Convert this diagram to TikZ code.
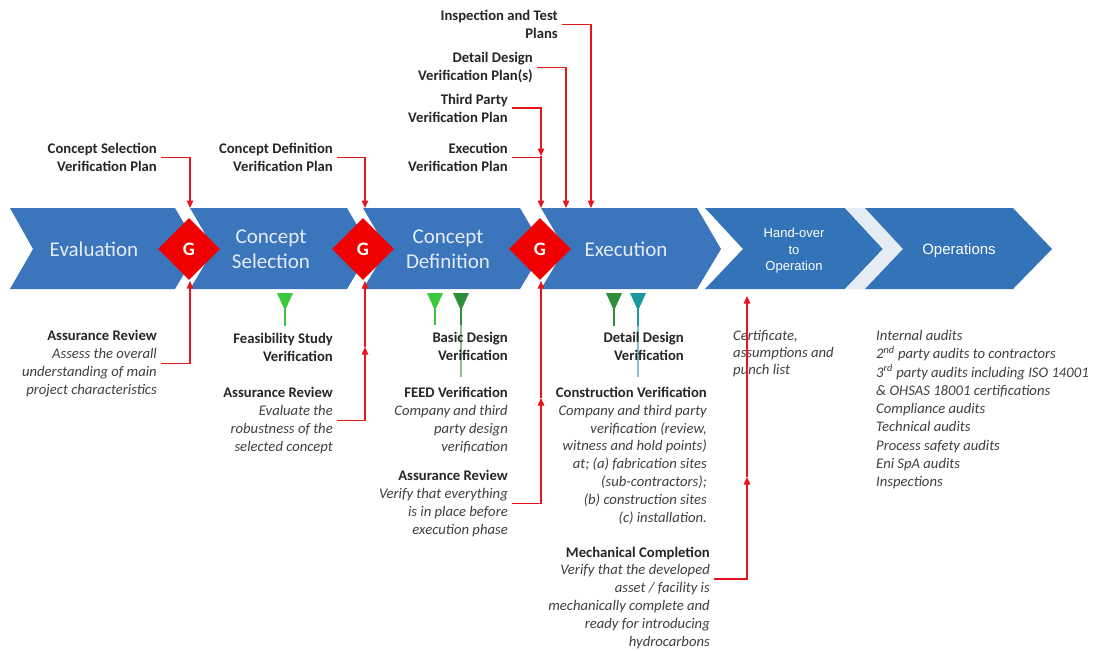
\documentclass[tikz,border=0pt]{standalone}
\usepackage{fontspec}
\setmainfont{Carlito}
\newfontfamily\arialfont{Liberation Sans}
\usetikzlibrary{arrows.meta,shapes.geometric,calc}

\definecolor{chev}{HTML}{3B76BC}
\definecolor{chevb}{HTML}{3373B8}
\definecolor{chevtext}{HTML}{E4ECF7}
\definecolor{gatered}{HTML}{F00000}
\definecolor{linkred}{HTML}{E8141C}
\definecolor{headc}{HTML}{262626}
\definecolor{bodyc}{HTML}{404040}
\definecolor{mkA}{HTML}{3CC83C}
\definecolor{mkB}{HTML}{2E8E3A}
\definecolor{mkC}{HTML}{1A9A9E}
\definecolor{gapc}{HTML}{E6ECF4}

\newcommand\blockhead[1]{{\upshape\bfseries\color{headc}#1}}
% funnel-shaped milestone marker: x position, colour, stem end
\newcommand\funnelmark[3]{%
  \fill[#2] ({#1-8},293) -- ({#1+8},293) -- ({#1+1.2},308) -- ({#1-1.2},308) -- cycle;
  \draw[#2, line width=2.2pt] (#1,306) -- (#1,#3);}

\tikzset{
  stage/.style={fill=chev, draw=none},
  stagetext/.style={text=chevtext, font=\fontsize{21}{25}\selectfont, align=center, inner sep=0},
  stagetextb/.style={text=white, font=\arialfont\fontsize{13}{16.5}\selectfont, align=center, inner sep=0},
  gatebox/.style={diamond, fill=gatered, text=white, font=\bfseries\fontsize{19}{19}\selectfont,
    minimum width=62pt, minimum height=62pt, inner sep=0},
  plan/.style={font=\bfseries\fontsize{14.67}{17.8}\selectfont, text=headc, align=right, anchor=base east, inner sep=0},
  note/.style={font=\itshape\fontsize{14.67}{17.9}\selectfont, text=bodyc, align=right, anchor=base east, inner sep=0},
  notel/.style={note, align=left, anchor=base west},
  link/.style={draw=linkred, line width=1.3pt},
  linkarrow/.style={link, -{Triangle[width=6.5pt,length=7.5pt]}},
}

\begin{document}
\begin{tikzpicture}[x=1pt, y=-1pt]
\useasboundingbox (0,0) rectangle (1099,650);
\fill[white] (0,0) rectangle (1099,650);

% phase chevrons
\fill[stage] (10,208) -- (175,208) -- (199,249) -- (175,289) -- (10,289) -- (33,249) -- cycle;
\fill[stage] (190,208) -- (347,208) -- (371,249) -- (347,289) -- (190,289) -- (214,249) -- cycle;
\fill[stage] (363,208) -- (520,208) -- (544,249) -- (520,289) -- (363,289) -- (387,249) -- cycle;
\fill[stage] (541,208) -- (697,208) -- (721,249) -- (697,289) -- (541,289) -- (565,249) -- cycle;
\fill[fill=chevb] (705,208) -- (845,208) -- (883,249) -- (845,289) -- (705,289) -- (743,249) -- cycle;
\fill[gapc] (845,208) -- (865,208) -- (903,249) -- (865,289) -- (845,289) -- (883,249) -- cycle;
\fill[fill=chevb] (865,208) -- (1013,208) -- (1052,249) -- (1013,289) -- (865,289) -- (903,249) -- cycle;

\node[stagetext] (eval) at (94,249) {Evaluation};
\node[stagetext] (csel) at (271,249.5) {Concept\\Selection};
\node[stagetext] (cdef) at (448,249.5) {Concept\\Definition};
\node[stagetext] (exec) at (626,249) {Execution};
\node[stagetextb] (hand) at (794,251) {Hand-over\\to\\Operation};
\node[stagetextb, font=\arialfont\fontsize{15}{18}\selectfont] (oper) at (959,251) {Operations};

% gates
\node[gatebox] (g1) at (189,249) {G};
\node[gatebox] (g2) at (363,249) {G};
\node[gatebox] (g3) at (540,249) {G};

% milestone markers
\draw[mkB, opacity=0.55, line width=1.6pt] (461,320) -- (461,377);
\draw[mkC, opacity=0.55, line width=1.6pt] (638,320) -- (638,377);
\funnelmark{285}{mkA}{326}
\funnelmark{435}{mkA}{325}
\funnelmark{461}{mkB}{325}
\funnelmark{614}{mkB}{326}
\funnelmark{638}{mkC}{326}

% plans feeding the gates (placed by the baseline of their last line)
\node[plan] (csv) at (157,171.5) {Concept Selection\\Verification Plan};
\node[plan] (cdv) at (333,171.5) {Concept Definition\\Verification Plan};
\node[plan] (itp) at (558,38.5) {Inspection and Test\\Plans};
\node[plan] (dvp) at (533,80.5) {Detail Design\\Verification Plan(s)};
\node[plan] (tpv) at (508,122) {Third Party\\Verification Plan};
\node[plan] (evp) at (508,171.5) {Execution\\Verification Plan};

% verification activities
\node[plan] (fsv) at (333,361.5) {Feasibility Study\\Verification};
\node[plan] (bdv) at (508,360.5) {Basic Design\\Verification};
\node[plan] (ddv) at (684,360.5) {Detail Design\\Verification};

\node[note] (ar1) at (157,394.5) {\blockhead{Assurance Review}\\Assess the overall\\understanding of main\\project characteristics};
\node[note] (ar2) at (333,451.5) {\blockhead{Assurance Review}\\Evaluate the\\robustness of the\\selected concept};
\node[note] (feed) at (508,451.5) {\blockhead{FEED Verification}\\Company and third\\party design\\verification};
\node[note] (ar3) at (508,534.5) {\blockhead{Assurance Review}\\Verify that everything\\is in place before\\execution phase};
\node[note] (cv) at (707,522.5) {\blockhead{Construction Verification}\\Company and third party\\verification (review,\\witness and hold points)\\at; (a) fabrication sites\\(sub-contractors);\\(b) construction sites\\(c) installation.};
\node[note] (mc) at (710,646.5) {\blockhead{Mechanical Completion}\\Verify that the developed\\asset / facility is\\mechanically complete and\\ready for introducing\\hydrocarbons};
\node[notel, font=\itshape\fontsize{14.67}{17}\selectfont] (cert) at (733,374.5) {Certificate,\\assumptions and\\punch list};
\node[notel, font=\itshape\fontsize{14.67}{18.25}\selectfont] (aud) at (876,486.5) {Internal audits\\2\textsuperscript{nd} party audits to contractors\\3\textsuperscript{rd} party audits including ISO 14001\\\& OHSAS 18001 certifications\\Compliance audits\\Technical audits\\Process safety audits\\Eni SpA audits\\Inspections};

% link end points
\coordinate (t1) at (190,208);
\coordinate (t2) at (365,208);
\coordinate (t3) at (541,208);
\coordinate (t4) at (566,208);
\coordinate (t5) at (591,208);
\coordinate (m5) at (541,156);
\coordinate (b1) at (190,281);
\coordinate (b2) at (365,281);
\coordinate (b3) at (541,281);
\coordinate (b4) at (747,296);
\coordinate (m2) at (365,347);
\coordinate (m3) at (541,398);
\coordinate (m4) at (747,477);

% links from plans (top)
\draw[linkarrow] ([xshift=4pt]csv.east) -| (t1);
\draw[linkarrow] ([xshift=4pt]cdv.east) -| (t2);
\draw[linkarrow] ([xshift=4pt]tpv.east) -| (m5);
\draw[link] ([xshift=4pt]evp.east) -- (evp.east -| t3);
\draw[linkarrow] (m5) -- (t3);
\draw[linkarrow] ([xshift=4pt]dvp.east) -| (t4);
\draw[linkarrow] ([xshift=4pt]itp.east) -| (t5);

% links from reviews (bottom)
\draw[linkarrow] ([xshift=4pt]ar1.east) -| (b1);
\draw[linkarrow] ([xshift=4pt]ar2.east) -| (m2);
\draw[linkarrow] (m2) -- (b2);
\draw[linkarrow] ([xshift=4pt]ar3.east) -| (m3);
\draw[linkarrow] (m3) -- (b3);
\draw[linkarrow] ($(mc.base east)+(4,-67.5)$) -| (m4);
\draw[linkarrow] (m4) -- (b4);
\end{tikzpicture}
\end{document}
